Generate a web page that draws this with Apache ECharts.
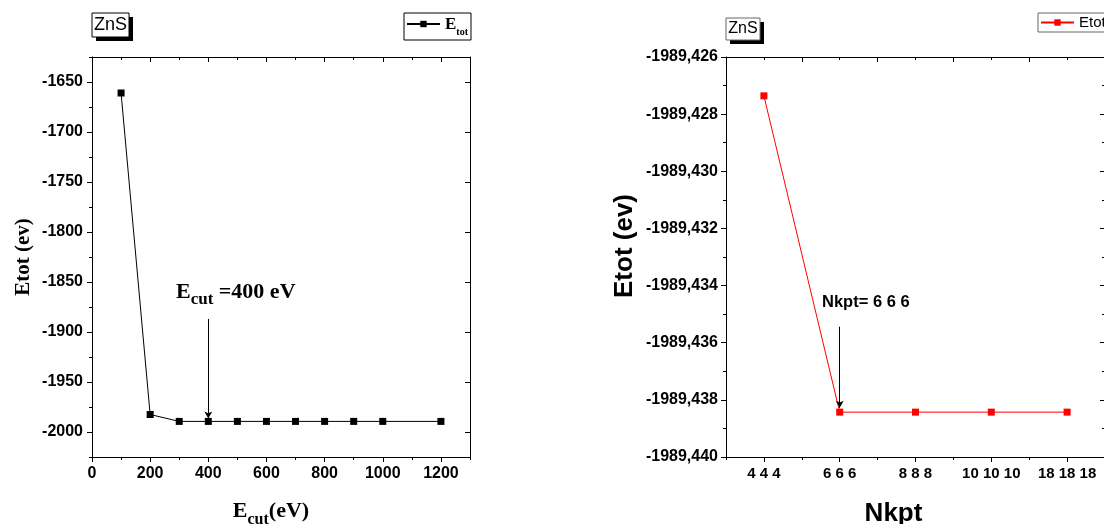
<!DOCTYPE html>
<html><head><meta charset="utf-8">
<script src="https://cdn.jsdelivr.net/npm/echarts@6/dist/echarts.min.js"></script>
<style>html,body{margin:0;padding:0;background:#fff}#c{width:1104px;height:524px}</style>
</head><body><div id="c"></div>
<script>
// ---- Data: left panel (cut-off energy convergence) ----
const ecutValues = [100, 200, 300, 400, 500, 600, 700, 800, 900, 1000, 1200];
const ecutEnergy = [-1661, -1982.5, -1989.4, -1989.4, -1989.4, -1989.4, -1989.4, -1989.4, -1989.4, -1989.4, -1989.4];
const ecutMajorTicks = [0, 200, 400, 600, 800, 1000, 1200];
const ecutMinorTicks = [100, 300, 500, 700, 900, 1100, 1300];
const energyMajorTicks = [-2000, -1950, -1900, -1850, -1800, -1750, -1700, -1650];
const energyMinorTicks = [-2025, -1975, -1925, -1875, -1825, -1775, -1725, -1675, -1625];

// ---- Data: right panel (k-point convergence) ----
const kptCategories = ['4 4 4', '6 6 6', '8 8 8', '10 10 10', '18 18 18'];
const kptEnergy = [-1989.42736, -1989.43843, -1989.43843, -1989.43843, -1989.43843];
const kptMajorTicks = [-1989.440, -1989.438, -1989.436, -1989.434, -1989.432, -1989.430, -1989.428, -1989.426];
const kptMinorTicks = [-1989.439, -1989.437, -1989.435, -1989.433, -1989.431, -1989.429, -1989.427];

const SANS = 'Arial, "Liberation Sans", sans-serif';
const SERIF = '"Times New Roman", "Liberation Serif", serif';

const chart = echarts.init(document.getElementById('c'));

function valAxis(o) {
  return Object.assign({
    type: 'value', scale: false,
    splitLine: {show: false},
    axisLine: {show: true, onZero: false, lineStyle: {color: '#000', width: 1}},
    axisTick: {show: true, length: 5, lineStyle: {color: '#000', width: 1}},
    axisLabel: {show: false}
  }, o);
}

const labelStyle = {show: true, color: '#000', fontFamily: SANS, fontWeight: 'bold', fontSize: 16};

const xAxes = [
  // grid 0 : left panel majors
  valAxis({gridIndex: 0, position: 'bottom', min: 0, max: 1300,
    axisTick: {show: true, length: 5, customValues: ecutMajorTicks, lineStyle: {color: '#000'}},
    axisLabel: Object.assign({}, labelStyle, {customValues: ecutMajorTicks, margin: 9, formatter: v => String(v)}),
    name: '{e|E}{s|cut}{e|(eV)}', nameLocation: 'middle', nameGap: 39,
    nameTextStyle: {padding: [0, 20, 0, 0], rich: {
      e: {fontFamily: SERIF, fontWeight: 'bold', fontSize: 22, color: '#000', lineHeight: 26, verticalAlign: 'bottom'},
      s: {fontFamily: SERIF, fontWeight: 'bold', fontSize: 16, color: '#000', lineHeight: 20, verticalAlign: 'bottom', padding: [0, 0, -6, 0]}
    }}
  }),
  valAxis({gridIndex: 0, position: 'top', min: 0, max: 1300,
    axisTick: {show: true, inside: true, length: 5, customValues: ecutMajorTicks, lineStyle: {color: '#000'}}}),
  // grid 1 : left panel minors
  valAxis({gridIndex: 1, position: 'bottom', min: 0, max: 1300, axisLine: {show: false},
    axisTick: {show: true, length: 3, customValues: ecutMinorTicks, lineStyle: {color: '#000'}}}),
  valAxis({gridIndex: 1, position: 'top', min: 0, max: 1300, axisLine: {show: false},
    axisTick: {show: true, inside: true, length: 3, customValues: ecutMinorTicks, lineStyle: {color: '#000'}}}),
  // grid 2 : right panel
  {type: 'category', gridIndex: 2, position: 'bottom', data: kptCategories, boundaryGap: true,
    splitLine: {show: false},
    axisLine: {show: true, onZero: false, lineStyle: {color: '#000', width: 1}},
    axisTick: {show: true, alignWithLabel: true, interval: 0, length: 5, lineStyle: {color: '#000'}},
    axisLabel: Object.assign({}, labelStyle, {fontSize: 15, interval: 0, margin: 9}),
    name: 'Nkpt', nameLocation: 'middle', nameGap: 44,
    nameTextStyle: {fontFamily: SANS, fontWeight: 'bold', fontSize: 26, color: '#000', padding: [0, 44, 0, 0]}
  },
  {type: 'category', gridIndex: 2, position: 'top', data: kptCategories, boundaryGap: true,
    splitLine: {show: false},
    axisLine: {show: true, onZero: false, lineStyle: {color: '#000', width: 1}},
    axisTick: {show: true, inside: true, interval: 0, length: 5, lineStyle: {color: '#000'}},
    axisLabel: {show: false}},
  // grid 3 : right panel minors
  {type: 'category', gridIndex: 3, position: 'bottom', data: kptCategories, boundaryGap: true,
    splitLine: {show: false}, axisLine: {show: false},
    axisTick: {show: true, interval: 0, length: 3, lineStyle: {color: '#000'}},
    axisLabel: {show: false}},
  {type: 'category', gridIndex: 3, position: 'top', data: kptCategories, boundaryGap: true,
    splitLine: {show: false}, axisLine: {show: false},
    axisTick: {show: true, inside: true, alignWithLabel: true, interval: 0, length: 3, lineStyle: {color: '#000'}},
    axisLabel: {show: false}}
];

const yAxes = [
  // grid 0
  valAxis({gridIndex: 0, position: 'left', min: -2025, max: -1625,
    axisTick: {show: true, length: 5, customValues: energyMajorTicks, lineStyle: {color: '#000'}},
    axisLabel: Object.assign({}, labelStyle, {customValues: energyMajorTicks, margin: 9, formatter: v => String(v)}),
    name: 'Etot (ev)', nameLocation: 'middle', nameGap: 58, nameRotate: 90,
    nameTextStyle: {fontFamily: SERIF, fontWeight: 'bold', fontSize: 21, color: '#000'}
  }),
  valAxis({gridIndex: 0, position: 'right', min: -2025, max: -1625,
    axisTick: {show: true, inside: true, length: 5, customValues: energyMajorTicks, lineStyle: {color: '#000'}}}),
  // grid 1
  valAxis({gridIndex: 1, position: 'left', min: -2025, max: -1625, axisLine: {show: false},
    axisTick: {show: true, length: 3, customValues: energyMinorTicks, lineStyle: {color: '#000'}}}),
  valAxis({gridIndex: 1, position: 'right', min: -2025, max: -1625, axisLine: {show: false},
    axisTick: {show: true, inside: true, length: 3, customValues: energyMinorTicks, lineStyle: {color: '#000'}}}),
  // grid 2
  valAxis({gridIndex: 2, position: 'left', min: -1989.440, max: -1989.426,
    axisTick: {show: true, length: 5, customValues: kptMajorTicks, lineStyle: {color: '#000'}},
    axisLabel: Object.assign({}, labelStyle, {customValues: kptMajorTicks, margin: 8,
      formatter: v => v.toFixed(3).replace('.', ',')}),
    name: 'Etot (ev)', nameLocation: 'middle', nameGap: 88, nameRotate: 90,
    nameTextStyle: {fontFamily: SANS, fontWeight: 'bold', fontSize: 26, color: '#000', padding: [0, 0, 0, 22]}
  }),
  valAxis({gridIndex: 2, position: 'right', min: -1989.440, max: -1989.426,
    axisTick: {show: true, inside: true, length: 5, customValues: kptMajorTicks, lineStyle: {color: '#000'}}}),
  // grid 3
  valAxis({gridIndex: 3, position: 'left', min: -1989.440, max: -1989.426, axisLine: {show: false},
    axisTick: {show: true, length: 3, customValues: kptMinorTicks, lineStyle: {color: '#000'}}}),
  valAxis({gridIndex: 3, position: 'right', min: -1989.440, max: -1989.426, axisLine: {show: false},
    axisTick: {show: true, inside: true, length: 3, customValues: kptMinorTicks, lineStyle: {color: '#000'}}})
];

function znsBox(x, y, w, h, fs, border) {
  return {type: 'group', children: [
    {type: 'rect', shape: {x: x + 4, y: y + 4, width: w, height: h}, style: {fill: '#000'}},
    {type: 'rect', shape: {x: x, y: y, width: w, height: h}, style: {fill: '#fff', stroke: border, lineWidth: 1}},
    {type: 'text', x: x + w / 2, y: y + h / 2, style: {text: 'ZnS', fontFamily: SANS, fontSize: fs, fill: '#000', align: 'center', verticalAlign: 'middle'}}
  ]};
}

const gridBase = {outerBoundsMode: 'none', containLabel: false};

chart.setOption({
  animation: false,
  backgroundColor: '#fff',
  grid: [
    Object.assign({left: 92, top: 57, width: 378, height: 400}, gridBase),
    Object.assign({left: 92, top: 57, width: 378, height: 400}, gridBase),
    Object.assign({left: 726, top: 57, width: 379, height: 400}, gridBase),
    Object.assign({left: 726, top: 57, width: 379, height: 400}, gridBase)
  ],
  xAxis: xAxes,
  yAxis: yAxes,
  legend: [
    {data: ['E_tot'], left: 404, top: 13, orient: 'horizontal', padding: [3, 3, 3, 2],
      borderColor: '#000', borderWidth: 1, itemWidth: 33, itemHeight: 8, itemGap: 0,
      formatter: () => '{e|E}{s|tot}',
      textStyle: {rich: {
        e: {fontFamily: SERIF, fontWeight: 'bold', fontSize: 17, color: '#000', lineHeight: 18, verticalAlign: 'bottom'},
        s: {fontFamily: SERIF, fontWeight: 'bold', fontSize: 10, color: '#000', lineHeight: 14, verticalAlign: 'bottom', padding: [0, 0, -4, 0]}
      }}},
    {data: ['Etot'], left: 1038, top: 13, padding: [2, 4, 2, 2],
      borderColor: '#666', borderWidth: 1, itemWidth: 33, itemHeight: 8, itemGap: 0,
      textStyle: {fontFamily: SANS, fontSize: 15, color: '#000'}}
  ],
  graphic: [
    znsBox(92, 13, 37, 24, 18, '#000'),
    znsBox(726, 18, 34, 22, 16, '#666'),
    {type: 'text', x: 176, y: 290, style: {
      text: '{e|E}{s|cut}{e| =400 eV}',
      rich: {
        e: {fontFamily: SERIF, fontWeight: 'bold', fontSize: 22, fill: '#000', lineHeight: 26, verticalAlign: 'bottom'},
        s: {fontFamily: SERIF, fontWeight: 'bold', fontSize: 17, fill: '#000', lineHeight: 22, verticalAlign: 'bottom', padding: [0, 0, -5, 0]}
      }, verticalAlign: 'middle'}},
    {type: 'text', x: 822, y: 302, style: {text: 'Nkpt= 6 6 6', fontFamily: SANS, fontWeight: 'bold', fontSize: 16.5, fill: '#000', verticalAlign: 'middle'}}
  ],
  series: [
    {name: 'E_tot', type: 'line', xAxisIndex: 0, yAxisIndex: 0,
      data: ecutValues.map((x, i) => [x, ecutEnergy[i]]),
      symbol: 'rect', symbolSize: 7, showAllSymbol: true,
      lineStyle: {color: '#000', width: 1}, itemStyle: {color: '#000'},
      markLine: {silent: true, symbol: ['none', 'arrow'], symbolSize: [6, 7], z: 10,
        label: {show: false}, lineStyle: {color: '#000', width: 1, type: 'solid'},
        data: [[{coord: [400, -1887]}, {coord: [400, -1986.5]}]]}},
    {name: 'Etot', type: 'line', xAxisIndex: 4, yAxisIndex: 4,
      data: kptEnergy,
      symbol: 'rect', symbolSize: 7, showAllSymbol: true,
      lineStyle: {color: '#ff0000', width: 1}, itemStyle: {color: '#ff0000'},
      markLine: {silent: true, symbol: ['none', 'arrow'], symbolSize: [6, 7], z: 10,
        label: {show: false}, lineStyle: {color: '#000', width: 1, type: 'solid'},
        data: [[{coord: [kptCategories[1], -1989.43544]}, {coord: [kptCategories[1], -1989.43828]}]]}}
  ]
});
</script></body></html>
